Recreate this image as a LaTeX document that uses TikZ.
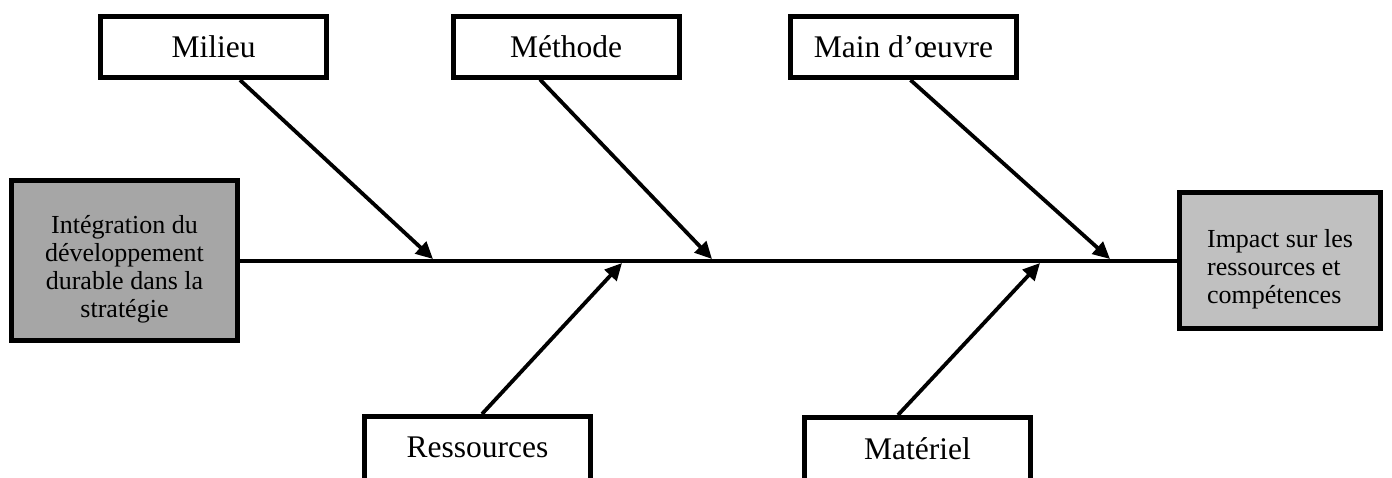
\documentclass[tikz,border=0pt]{standalone}
\usepackage{fontspec}
\setmainfont{Liberation Serif}
\usepackage{xcolor}
\usetikzlibrary{arrows.meta}

\definecolor{leftgray}{RGB}{166,166,166}
\definecolor{rightgray}{RGB}{192,192,192}

\tikzset{
    causebox/.style = {draw, line width=2.5pt, fill=white, inner sep=0pt,
        minimum width=113pt, minimum height=30.5pt,
        font=\fontsize{15.75}{19}\selectfont},
    lowbox/.style = {causebox, minimum height=35pt, text depth=4.2pt},
    sidebox/.style = {draw, line width=2.5pt, inner sep=0pt},
    sidetext/.style = {font=\fontsize{13}{14}\selectfont, yshift=-4.5pt},
    bone/.style = {line width=1.9pt, -{Triangle[length=8.5pt,width=8pt]}}
}

\begin{document}
\begin{tikzpicture}[x=0.5pt, y=-0.5pt]

    % \draw [help lines, step = 50] (0,0) grid (1392,477);
    \useasboundingbox (0,0) rectangle (1392,477);
    \clip (0,0) rectangle (1392,477);

    % head and tail
    \node [sidebox, fill=leftgray, minimum width=113pt, minimum height=80pt,
        label={[sidetext, align=center]center:Intégration du\\développement\\durable dans la\\stratégie}] (strategie) at (124.5,260.5) {};
    \node [sidebox, fill=rightgray, minimum width=100.5pt, minimum height=68pt,
        label={[sidetext, align=left]center:Impact sur les\\ressources et\\compétences}] (impact) at (1280,260.5) {};

    % spine
    \draw [line width=2pt] (strategie.east) -- (impact.west);

    \coordinate (milieuhit) at (433,259);
    \coordinate (methodehit) at (712,259);
    \coordinate (oeuvrehit) at (1110,259);
    \coordinate (ressourceshit) at (622,263);
    \coordinate (materielhit) at (1040,263);

    % causes above
    \node [causebox] (milieu) at (213.5,47) {Milieu};
    \node [causebox] (methode) at (566,46.5) {Méthode};
    \node [causebox] (oeuvre) at (903.5,47) {Main d’œuvre};

    % causes below
    \node [lowbox] (ressources) at (477.5,451.5) {Ressources};
    \node [lowbox] (materiel) at (917.5,452.5) {Matériel};

    \draw [bone] ([xshift=13.25pt]milieu.south) -- (milieuhit);
    \draw [bone] ([xshift=-13pt]methode.south) -- (methodehit);
    \draw [bone] ([xshift=3.5pt]oeuvre.south) -- (oeuvrehit);

    \draw [bone] ([xshift=2.25pt]ressources.north) -- (ressourceshit);
    \draw [bone] ([xshift=-9.75pt]materiel.north) -- (materielhit);

\end{tikzpicture}
\end{document}
